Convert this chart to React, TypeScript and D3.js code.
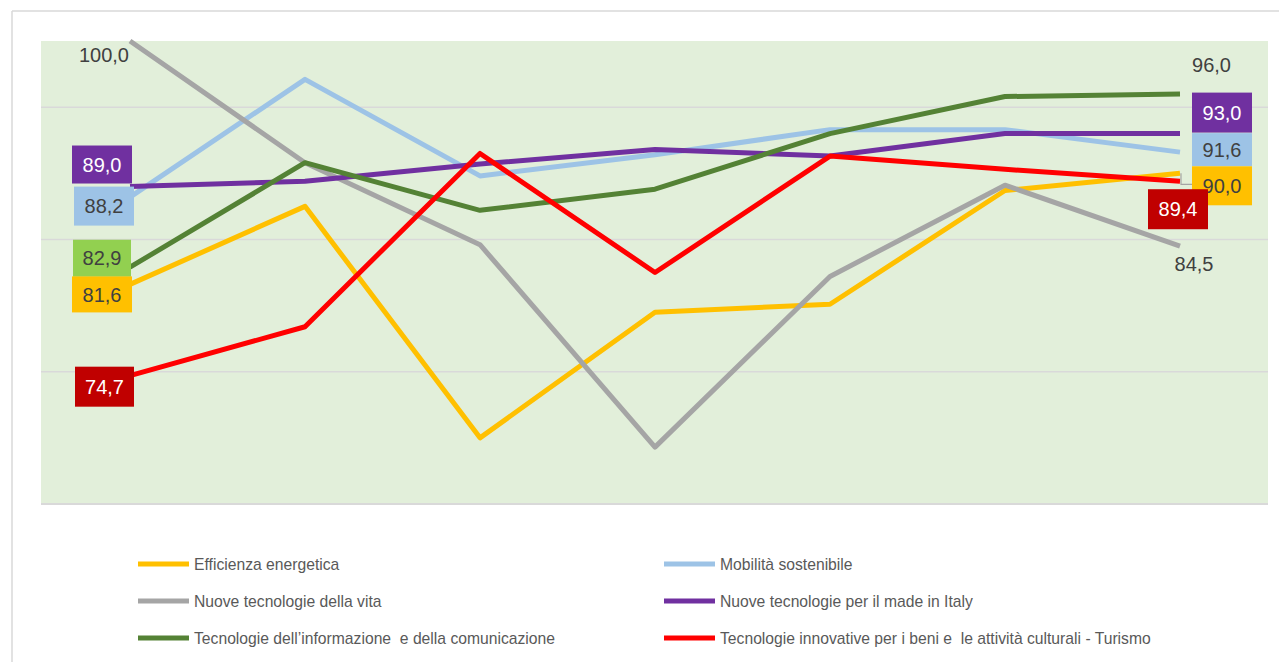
import React from "react";
import * as d3 from "d3";

// categories (no axis labels shown in the chart)
const categories = ["P1", "P2", "P3", "P4", "P5", "P6", "P7"];

const seriesNames = [
  "Efficienza energetica",
  "Mobilità sostenibile",
  "Nuove tecnologie della vita",
  "Nuove tecnologie per il made in Italy",
  "Tecnologie dell’informazione\u00A0 e della comunicazione",
  "Tecnologie innovative per i beni e\u00A0 le attività culturali - Turismo",
];

// values
const efficienza = [81.6, 87.5, 70.0, 79.5, 80.1, 88.7, 90.0];
const mobilita = [88.2, 97.1, 89.8, 91.4, 93.3, 93.3, 91.6];
const vita = [100.0, 90.8, 84.6, 69.3, 82.2, 89.1, 84.5];
const madeInItaly = [89.0, 89.4, 90.7, 91.8, 91.3, 93.0, 93.0];
const ict = [82.9, 90.8, 87.2, 88.8, 93.0, 95.8, 96.0];
const turismo = [74.7, 78.4, 91.5, 82.5, 91.3, 90.3, 89.4];

const gridTicks = [65, 75, 85, 95];
const yDomain = [65, 100];

const seriesValues = [efficienza, mobilita, vita, madeInItaly, ict, turismo];
const lineColors = ["#FFC000", "#9DC3E6", "#A5A5A5", "#7030A0", "#548235", "#FF0000"];

// data labels: which series, which point (first/last)
// box: fill colour or null for plain text; dx/dy relative to the point
const labelLayout = [
  { s: 2, i: 0, box: null, dx: -1, dy: 14, anchor: "end", color: "#404040" },
  { s: 4, i: 0, box: "#92D050", dx: -28, dy: -9, w: 58, h: 37, color: "#404040" },
  { s: 0, i: 0, box: "#FFC000", dx: -28, dy: 10, w: 60, h: 36, color: "#404040" },
  { s: 1, i: 0, box: "#9DC3E6", dx: -26, dy: 9, w: 60, h: 39, color: "#404040" },
  { s: 3, i: 0, box: "#7030A0", dx: -28, dy: -22, w: 60, h: 38, color: "#FFFFFF" },
  { s: 5, i: 0, box: "#C00000", dx: -25.5, dy: 11, w: 59, h: 40, color: "#FFFFFF" },
  { s: 4, i: 6, box: null, dx: 31.5, dy: -28.7, anchor: "middle", color: "#404040" },
  { s: 2, i: 6, box: null, dx: 14, dy: 18, anchor: "middle", color: "#404040" },
  { s: 3, i: 6, box: "#7030A0", dx: 42, dy: -21, w: 60, h: 40, color: "#FFFFFF" },
  { s: 1, i: 6, box: "#9DC3E6", dx: 42, dy: -2.5, w: 60, h: 33, color: "#404040" },
  { s: 0, i: 6, box: "#FFC000", dx: 42, dy: 12.5, w: 60, h: 39, color: "#404040" },
  { s: 5, i: 6, box: "#C00000", dx: -2, dy: 28, w: 60, h: 40, color: "#FFFFFF" },
];

const fmt = (v: number) => v.toFixed(1).replace(".", ",");

const W = 1279;
const H = 662;
const plot = { left: 41, right: 1268, top: 41, bottom: 504 };
const font = "'Liberation Sans', Arial, sans-serif";

export default function App() {
  const x = d3
    .scalePoint<string>()
    .domain(categories)
    .range([plot.left + 1.5, plot.right - 0.5])
    .padding(0.5);
  const y = d3.scaleLinear().domain(yDomain).range([plot.bottom, plot.top]);

  const line = d3
    .line<number>()
    .x((_, i) => x(categories[i])!)
    .y((d) => y(d));

  // leader line from yellow end point to its label box
  const yLast = y(efficienza[6]);
  const xLast = x(categories[6])!;

  return (
    <svg
      width={W}
      height={H}
      style={{ position: "absolute", left: 0, top: 0, display: "block" }}
      fontFamily={font}
    >
      <rect x={0} y={0} width={W} height={H} fill="#FFFFFF" />
      <line x1={12} x2={W} y1={11} y2={11} stroke="#D9D9D9" strokeWidth={1.5} />
      <line x1={12} x2={12} y1={11} y2={H} stroke="#D9D9D9" strokeWidth={1.5} />

      <rect
        x={plot.left}
        y={plot.top}
        width={plot.right - plot.left}
        height={plot.bottom - plot.top}
        fill="#E2EFDA"
      />
      {gridTicks.map((t) => (
        <line
          key={t}
          x1={plot.left}
          x2={plot.right}
          y1={y(t)}
          y2={y(t)}
          stroke="#D9D9D9"
          strokeWidth={t === yDomain[0] ? 2 : 1.5}
        />
      ))}

      {seriesValues.map((vals, s) => (
        <path
          key={s}
          d={line(vals)!}
          fill="none"
          stroke={lineColors[s]}
          strokeWidth={5}
          strokeLinejoin="round"
        />
      ))}

      <path
        d={`M${xLast + 1},${yLast} V${yLast + 11} H${xLast + 12}`}
        fill="none"
        stroke="#A5A5A5"
        strokeWidth={1.2}
      />

      {labelLayout.map((l, k) => {
        const v = seriesValues[l.s][l.i];
        const cx = x(categories[l.i])! + l.dx;
        const cy = y(v) + l.dy;
        return (
          <g key={k}>
            {l.box && (
              <rect
                x={cx - l.w! / 2}
                y={cy - l.h! / 2}
                width={l.w}
                height={l.h}
                fill={l.box}
              />
            )}
            <text
              x={cx}
              y={cy}
              dy="0.36em"
              textAnchor={l.box ? "middle" : l.anchor}
              fontSize={20}
              fill={l.color}
            >
              {fmt(v)}
            </text>
          </g>
        );
      })}

      {seriesNames.map((name, s) => {
        const col = s % 2;
        const row = Math.floor(s / 2);
        const sx = col === 0 ? 138 : 664;
        const sy = 564 + row * 37;
        return (
          <g key={name}>
            <line
              x1={sx}
              x2={sx + 51}
              y1={sy}
              y2={sy}
              stroke={lineColors[s]}
              strokeWidth={5}
            />
            <text
              x={sx + 56}
              y={sy}
              dy="0.36em"
              fontSize={15.7}
              fill="#595959"
            >
              {name}
            </text>
          </g>
        );
      })}
    </svg>
  );
}
